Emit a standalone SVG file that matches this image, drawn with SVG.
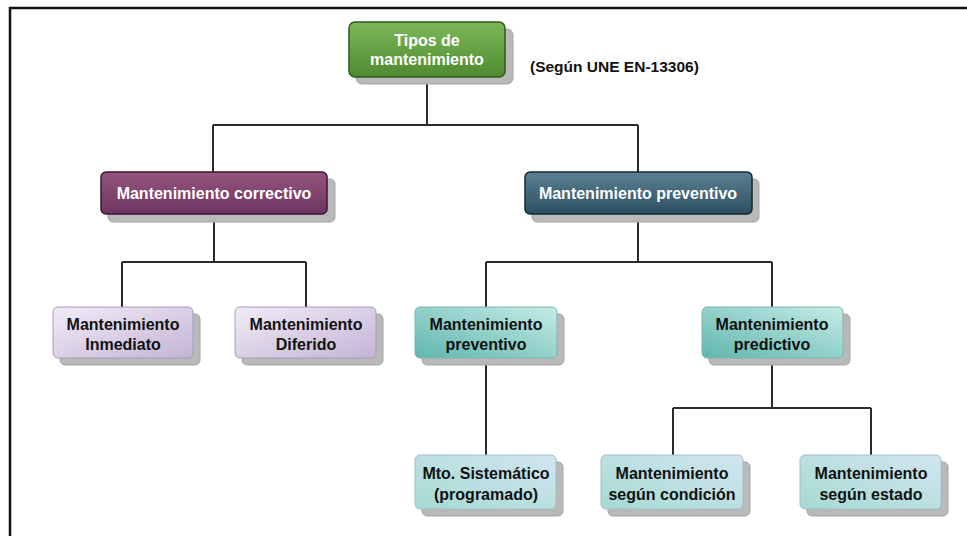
<svg xmlns="http://www.w3.org/2000/svg" width="967" height="536" viewBox="0 0 967 536">
<defs>
<linearGradient id="gGreen" x1="0" y1="0" x2="0" y2="1"><stop offset="0" stop-color="#7cb85a"/><stop offset="1" stop-color="#4f8a30"/></linearGradient>
<linearGradient id="gPurple" x1="0" y1="0" x2="0" y2="1"><stop offset="0" stop-color="#93567f"/><stop offset="1" stop-color="#6e3360"/></linearGradient>
<linearGradient id="gNavy" x1="0" y1="0" x2="0" y2="1"><stop offset="0" stop-color="#5b8194"/><stop offset="1" stop-color="#2c4e60"/></linearGradient>
<linearGradient id="gLav" x1="0" y1="0" x2="1" y2="1"><stop offset="0" stop-color="#f1ecf6"/><stop offset="1" stop-color="#c3b4d6"/></linearGradient>
<linearGradient id="gTeal" x1="0" y1="1" x2="1" y2="0"><stop offset="0" stop-color="#5fb6ae"/><stop offset="1" stop-color="#c6ebe6"/></linearGradient>
<linearGradient id="gBlue" x1="0" y1="1" x2="1" y2="0"><stop offset="0" stop-color="#a6dad2"/><stop offset="1" stop-color="#d2e5f0"/></linearGradient>
</defs>
<style>
.shadow{fill:#b9b9b9;stroke:#a5a5a5;stroke-width:1}
.wt{font-family:"Liberation Sans",Arial,sans-serif;font-weight:bold;font-size:16px;fill:#ffffff;text-anchor:middle}
.bt{font-family:"Liberation Sans",Arial,sans-serif;font-weight:bold;font-size:16px;fill:#111111;text-anchor:middle}
.conn{fill:none;stroke:#2b2b2b;stroke-width:2}
</style>
<rect x="0" y="0" width="967" height="536" fill="#ffffff"/>
<path d="M10,536 V8 H967" fill="none" stroke="#111" stroke-width="2.5"/>

<g id="connectors">
<path class="conn" d="M427,78 V125 M213,125 H638 M213,125 V172 M638,125 V172"/>
<path class="conn" d="M214,214 V262 M122,262 H306 M122,262 V307 M306,262 V307"/>
<path class="conn" d="M638,214 V262 M486,262 H772 M486,262 V307 M772,262 V307"/>
<path class="conn" d="M486,358 V455"/>
<path class="conn" d="M772,358 V408 M673,408 H871 M673,408 V455 M871,408 V455"/>
</g>

<g id="n-tipos">
<rect class="shadow" x="356" y="29" width="157" height="55" rx="6"/>
<rect x="349" y="22" width="156" height="55" rx="6" fill="url(#gGreen)" stroke="#2f5a1c" stroke-width="1.5"/>
<text class="wt" x="427" y="46">Tipos de</text>
<text class="wt" x="427" y="65">mantenimiento</text>
</g>
<g id="n-norma">
<text x="530" y="72" font-family="'Liberation Sans',Arial,sans-serif" font-weight="bold" font-size="15.5" fill="#111">(Según UNE EN-13306)</text>
</g>

<g id="n-correctivo">
<rect class="shadow" x="108" y="179" width="227" height="43" rx="5"/>
<rect x="101" y="172" width="226" height="42" rx="5" fill="url(#gPurple)" stroke="#3d1535" stroke-width="1.5"/>
<text class="wt" x="214" y="199">Mantenimiento correctivo</text>
</g>
<g id="n-preventivo">
<rect class="shadow" x="532" y="179" width="227" height="43" rx="5"/>
<rect x="525" y="172" width="227" height="42" rx="5" fill="url(#gNavy)" stroke="#142833" stroke-width="1.5"/>
<text class="wt" x="638" y="199">Mantenimiento preventivo</text>
</g>

<g id="n-inmediato">
<rect class="shadow" x="60" y="314" width="140" height="51" rx="5"/>
<rect x="53" y="307" width="140" height="51" rx="5" fill="url(#gLav)" stroke="#a89cba" stroke-width="1"/>
<text class="bt" x="123" y="330">Mantenimiento</text>
<text class="bt" x="123" y="350">Inmediato</text>
</g>
<g id="n-diferido">
<rect class="shadow" x="242" y="314" width="141" height="51" rx="5"/>
<rect x="235" y="307" width="141" height="51" rx="5" fill="url(#gLav)" stroke="#a89cba" stroke-width="1"/>
<text class="bt" x="306" y="330">Mantenimiento</text>
<text class="bt" x="306" y="350">Diferido</text>
</g>
<g id="n-prev2">
<rect class="shadow" x="422" y="314" width="142" height="51" rx="5"/>
<rect x="415" y="307" width="142" height="51" rx="5" fill="url(#gTeal)" stroke="#7fb5b0" stroke-width="1"/>
<text class="bt" x="486" y="330">Mantenimiento</text>
<text class="bt" x="486" y="350">preventivo</text>
</g>
<g id="n-predictivo">
<rect class="shadow" x="709" y="314" width="141" height="51" rx="5"/>
<rect x="702" y="307" width="141" height="51" rx="5" fill="url(#gTeal)" stroke="#7fb5b0" stroke-width="1"/>
<text class="bt" x="772" y="330">Mantenimiento</text>
<text class="bt" x="772" y="350">predictivo</text>
</g>

<g id="n-sistematico">
<rect class="shadow" x="422" y="462" width="141" height="54" rx="5"/>
<rect x="415" y="455" width="141" height="54" rx="5" fill="url(#gBlue)" stroke="#9cc0c6" stroke-width="1"/>
<text class="bt" x="486" y="479">Mto. Sistemático</text>
<text class="bt" x="486" y="500">(programado)</text>
</g>
<g id="n-condicion">
<rect class="shadow" x="608" y="462" width="142" height="54" rx="5"/>
<rect x="601" y="455" width="142" height="54" rx="5" fill="url(#gBlue)" stroke="#9cc0c6" stroke-width="1"/>
<text class="bt" x="672" y="479">Mantenimiento</text>
<text class="bt" x="672" y="500">según condición</text>
</g>
<g id="n-estado">
<rect class="shadow" x="807" y="462" width="141" height="54" rx="5"/>
<rect x="800" y="455" width="141" height="54" rx="5" fill="url(#gBlue)" stroke="#9cc0c6" stroke-width="1"/>
<text class="bt" x="871" y="479">Mantenimiento</text>
<text class="bt" x="871" y="500">según estado</text>
</g>
</svg>
